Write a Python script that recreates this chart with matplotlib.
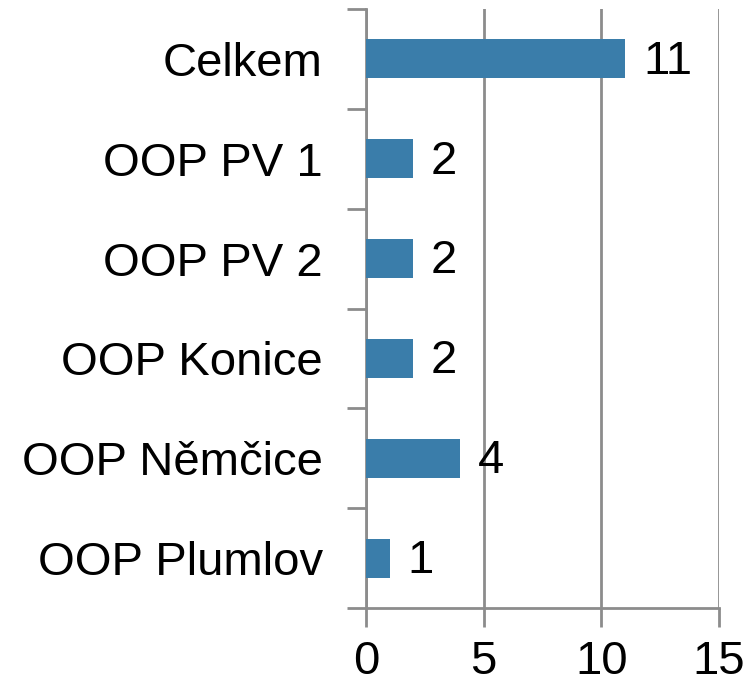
import numpy as np
import matplotlib.pyplot as plt
from matplotlib.ticker import FixedLocator

plt.rcParams['font.family'] = ['Liberation Sans', 'DejaVu Sans']

# Data
categories = ['Celkem', 'OOP PV 1', 'OOP PV 2', 'OOP Konice', 'OOP Němčice', 'OOP Plumlov']
values = [11, 2, 2, 2, 4, 1]
x_ticks = [0, 5, 10, 15]

bar_color = '#3A7DAA'
axis_gray = '#8C8C8C'

fig = plt.figure(figsize=(7.56, 6.86), dpi=100)
ax = fig.add_axes([366 / 756, 1 - 608 / 686, (719 - 366) / 756, (608 - 9) / 686])

pos = np.arange(len(categories))[::-1]
ax.barh(pos, values, height=0.39, color=bar_color, zorder=3)

for p, v in zip(pos, values):
    ax.annotate(str(v), (v, p), xytext=(13, -2), textcoords='offset points',
                ha='left', va='center', fontsize=34, color='black')

ax.set_xlim(0, 15)
ax.set_ylim(-0.5, len(categories) - 0.5)
ax.set_xticks(x_ticks)
ax.set_xticklabels([str(t) for t in x_ticks], fontsize=34)
ax.set_yticks(pos)
ax.set_yticklabels(categories, fontsize=34)
ax.yaxis.set_minor_locator(FixedLocator(np.arange(-0.5, len(categories), 1.0)))

ax.tick_params(axis='y', which='major', length=0, pad=31)
ax.tick_params(axis='y', which='minor', length=14, width=2, color=axis_gray)
ax.tick_params(axis='x', which='major', length=14, width=2, color=axis_gray, pad=9)

ax.grid(axis='x', color=axis_gray, linewidth=2, zorder=0)
for s in ['top', 'right']:
    ax.spines[s].set_visible(False)
for s in ['left', 'bottom']:
    ax.spines[s].set_color(axis_gray)
    ax.spines[s].set_linewidth(2)

fig.savefig('out.png', dpi=100)
